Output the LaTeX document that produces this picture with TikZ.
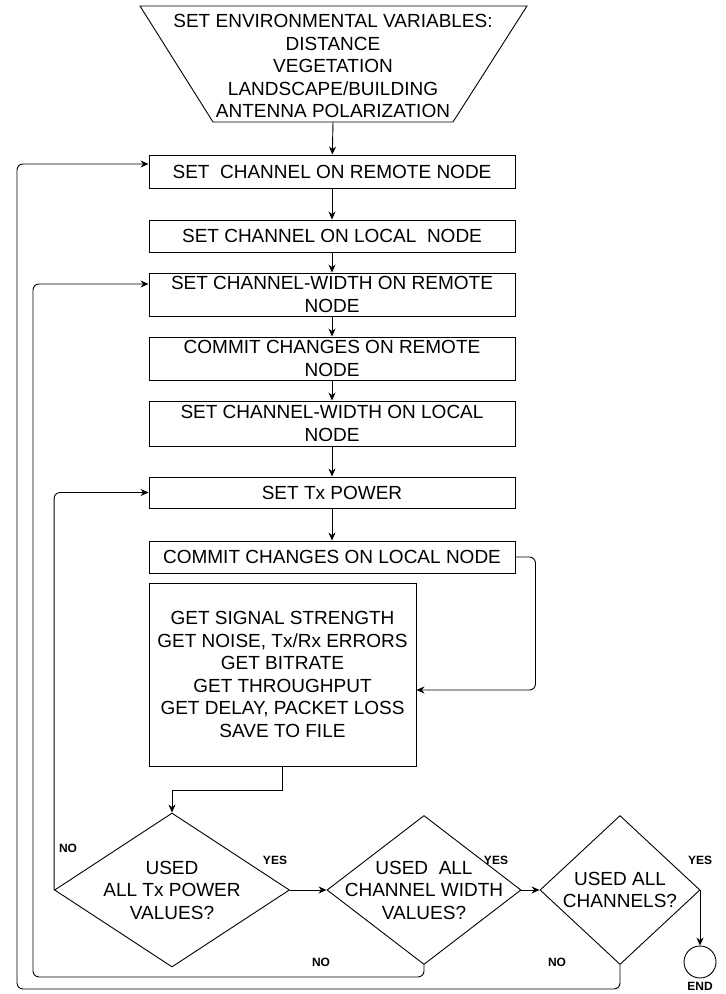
\documentclass[tikz,border=0pt]{standalone}
\usepackage{fontspec}
\setmainfont{Liberation Sans}
\usetikzlibrary{shapes.geometric,arrows.meta}

\begin{document}
\begin{tikzpicture}[
  x=1pt, y=-1pt,
  every node/.style={font=\fontsize{19}{22.5}\selectfont},
  box/.style={rectangle, draw, line width=0.9pt, minimum width=366pt, align=center, inner xsep=2pt, inner ysep=0pt},
  decision/.style={diamond, draw, line width=0.9pt, inner sep=0pt},
  qtext/.style={align=center, font=\fontsize{19}{22.5}\selectfont},
  tag/.style={font=\bfseries\fontsize{12}{14}\selectfont},
  arr/.style={-{Stealth[length=8pt,width=7pt]}, line width=0.9pt},
]
\useasboundingbox (0,0) rectangle (726,994);

% Row 1: environment setup
\draw[line width=0.9pt] (140,6) -- (527,6) -- (453,122) -- (213,122) -- cycle;
\node[align=center] (env) at (333,66) {SET ENVIRONMENTAL VARIABLES:\\DISTANCE\\VEGETATION\\LANDSCAPE/BUILDING\\ANTENNA POLARIZATION};
\coordinate (envb) at (333,122);

% Rows 2-8: configuration steps
\node[box, minimum height=33pt] (chrem) at (332,171.5) {SET\ \ CHANNEL ON REMOTE NODE};
\node[box, minimum height=32pt] (chloc) at (332,236) {SET CHANNEL ON LOCAL\ \ NODE};
\node[box, minimum height=43pt] (cwrem) at (332,294.5) {SET CHANNEL-WIDTH ON REMOTE\\NODE};
\node[box, minimum height=43pt] (comrem) at (332,358.5) {COMMIT CHANGES ON REMOTE\\NODE};
\node[box, minimum height=45pt] (cwloc) at (332,423.5) {SET CHANNEL-WIDTH ON LOCAL\\NODE};
\node[box, minimum height=31pt] (txp) at (332,492.5) {SET Tx POWER};
\node[box, minimum height=32pt] (comloc) at (332,557) {COMMIT CHANGES ON LOCAL NODE};

% Row 9: measurements
\node[box, minimum width=267pt, minimum height=183pt] (meas) at (282.5,674.5) {GET SIGNAL STRENGTH\\GET NOISE, Tx/Rx ERRORS\\GET BITRATE\\GET THROUGHPUT\\GET DELAY, PACKET LOSS\\SAVE TO FILE};

% Row 10: decisions
\node[decision, minimum width=235pt, minimum height=154pt, label={[qtext]center:USED\\ALL Tx POWER\\VALUES?}] (usedtx) at (172,890) {};
\node[decision, minimum width=194pt, minimum height=149pt, label={[qtext]center:USED\ \ ALL\\CHANNEL WIDTH\\VALUES?}] (usedcw) at (424,890) {};
\node[decision, minimum width=160pt, minimum height=149pt, label={[qtext]center:USED ALL\\CHANNELS?}] (usedch) at (620,890) {};
\node[circle, draw, line width=0.9pt, minimum size=32pt, inner sep=0pt, label={[tag]below:END}] (stop) at (700,962) {};

% Labels
\node[tag] (notx) at (68,848) {NO};
\node[tag] (yestx) at (275,860) {YES};
\node[tag] (yescw) at (496,860) {YES};
\node[tag] (yesch) at (700,860) {YES};
\node[tag] (nocw) at (321,962) {NO};
\node[tag] (noch) at (557,962) {NO};

% Arrows
\draw[arr] (envb) -- (chrem);
\draw[arr] (chrem) -- (chloc);
\draw[arr] (chloc) -- (cwrem);
\draw[arr] (cwrem) -- (comrem);
\draw[arr] (comrem) -- (cwloc);
\draw[arr] (cwloc) -- (txp);
\draw[arr] (txp) -- (comloc);
\draw[arr, rounded corners=6pt] (comloc.east) -- ++(20,0) |- ([yshift=-15.5pt]meas.east);
\draw[arr] (meas.south) -- ++(0,24) -| (usedtx.north);
\draw[arr] (usedtx.east) -- (usedcw.west);
\draw[arr] (usedcw.east) -- (usedch.west);
\draw[arr] (usedch.east) -| (stop.north);
\draw[arr, rounded corners=6pt] (usedtx.west) |- (txp.west);
\draw[arr, rounded corners=6pt] (usedcw.south) -- ++(0,12) -- ++(-391,0) |- ([yshift=10.5pt]cwrem.west);
\draw[arr, rounded corners=6pt] (usedch.south) -- ++(0,24) -- ++(-603,0) |- ([yshift=7.5pt]chrem.west);

\end{tikzpicture}
\end{document}
